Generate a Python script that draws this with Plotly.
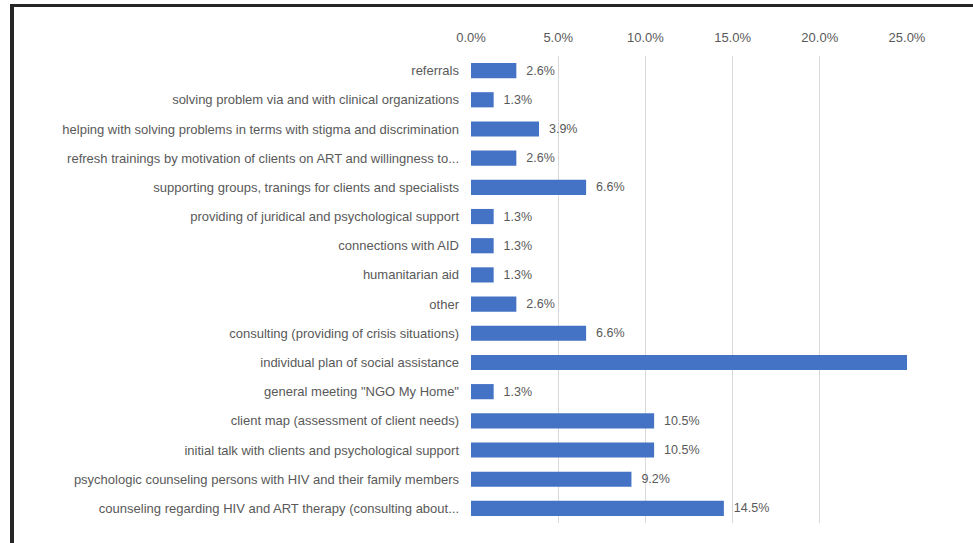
import plotly.graph_objects as go

categories = [
    "referrals",
    "solving problem via and with clinical organizations",
    "helping with solving problems in terms with stigma and discrimination",
    "refresh trainings by motivation of clients on ART and willingness to...",
    "supporting groups, tranings for clients and specialists",
    "providing of juridical and psychological support",
    "connections with AID",
    "humanitarian aid",
    "other",
    "consulting (providing of crisis situations)",
    "individual plan of social assistance",
    "general meeting \"NGO My Home\"",
    "client map (assessment of client needs)",
    "initial talk with clients and psychological support",
    "psychologic counseling persons with HIV and their family members",
    "counseling regarding HIV and ART therapy (consulting about...",
]
values = [2.6, 1.3, 3.9, 2.6, 6.6, 1.3, 1.3, 1.3, 2.6, 6.6, 26.3, 1.3, 10.5, 10.5, 9.2, 14.5]
tick_vals = [0, 5, 10, 15, 20, 25]
tick_text = ["0.0%", "5.0%", "10.0%", "15.0%", "20.0%", "25.0%"]
x_max = 25

W, H = 973, 543
ML, MR, MT, MB = 471, 66, 56, 20
pw, ph = W - ML - MR, H - MT - MB

font = "Liberation Sans, Arial, sans-serif"
grey = "#595959"

# labels of bars running past the axis end are clipped away in the original
labels = [("\u00a0\u00a0%.1f%%" % v) if v <= x_max else "" for v in values]

fig = go.Figure(go.Bar(
    x=values, y=categories, orientation="h",
    marker=dict(color="#4472C4", line=dict(width=0)),
    text=labels,
    textposition="outside",
    textfont=dict(family=font, size=12.5, color=grey),
    cliponaxis=True,
))

def px_x(p):
    return (p - ML) / pw

def px_y(p):
    return (H - MB - p) / ph

fig.update_layout(
    width=W, height=H,
    margin=dict(l=ML, r=MR, t=MT, b=MB, pad=0),
    paper_bgcolor="white", plot_bgcolor="white",
    bargap=0.48,
    showlegend=False,
    font=dict(family=font, size=13, color=grey),
    xaxis=dict(
        side="top", range=[0, x_max], tickvals=tick_vals, ticktext=tick_text,
        showgrid=True, gridcolor="#d9d9d9", gridwidth=1,
        zeroline=False, showline=False, ticks="",
        tickfont=dict(family=font, size=13, color=grey),
        ticklabelstandoff=10,
    ),
    yaxis=dict(
        autorange="reversed", showgrid=False, zeroline=False, showline=False,
        ticks="", tickfont=dict(family=font, size=13, color=grey),
        ticklabelstandoff=11,
    ),
    shapes=[
        dict(type="line", xref="paper", yref="paper",
             x0=px_x(10), x1=px_x(980), y0=px_y(5.5), y1=px_y(5.5),
             line=dict(color="#262626", width=3)),
        dict(type="line", xref="paper", yref="paper",
             x0=px_x(12), x1=px_x(12), y0=px_y(4), y1=px_y(560),
             line=dict(color="#262626", width=4)),
    ],
)

fig.write_html("out.html")
